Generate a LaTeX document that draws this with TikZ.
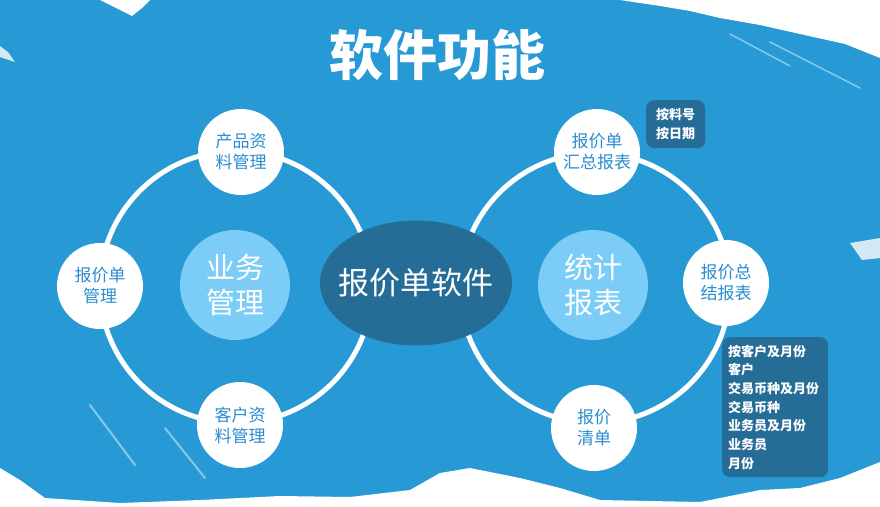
\documentclass[tikz,border=0pt]{standalone}
\usepackage{fontspec}
\setmainfont{Noto Sans CJK SC}
\usetikzlibrary{shapes.geometric, positioning, calc}
\definecolor{fondo}{HTML}{279AD6}
\definecolor{oscuro}{HTML}{256C97}
\definecolor{celeste}{HTML}{7BCDF7}
\definecolor{texto}{HTML}{2A8DCF}
\tikzset{
  anillo/.style={draw=white, line width=5pt},
  satelite/.style={circle, fill=white, minimum size=86pt, inner sep=0pt,
    align=center, text=texto, font=\fontsize{17}{21}\selectfont},
  nucleo/.style={circle, fill=celeste, minimum size=110pt, inner sep=0pt,
    align=center, text=white, font=\fontsize{29}{35}\selectfont},
  etiqueta/.style={rectangle, rounded corners=8pt, fill=oscuro, align=left,
    text=white, inner sep=0pt, font=\bfseries\fontsize{13}{18.7}\selectfont},
  brocha/.style={fill=white},
  raya/.style={draw=white, line cap=round, opacity=0.45}
}

\begin{document}
\begin{tikzpicture}[x=1pt, y=-1pt]

  % --- Fondo ---
  \useasboundingbox (0,0) rectangle (880,506);
  \fill[fondo] (0,0) rectangle (880,506);

  % --- Pinceladas ---
  \fill[brocha] (620,0) -- (880,0) -- (880,58) -- (845,44) -- (800,34)
    -- (760,25) -- (720,18) -- (690,11) -- (660,6) -- (640,3) -- cycle;
  \fill[brocha] (100,0) -- (150,0) -- (142,8) -- (132,16) -- (116,8) -- cycle;
  \fill[brocha, opacity=0.8] (0,46) -- (8,52) -- (15,62) -- (0,57) -- cycle;
  \fill[brocha, opacity=0.8] (850,243) -- (880,238) -- (880,258) -- (862,260) -- cycle;
  \fill[brocha] (0,468) -- (20,480) -- (45,498) -- (120,503) -- (200,500)
    -- (280,496) -- (350,497) -- (410,490) -- (440,473) -- (470,468)
    -- (520,478) -- (560,488) -- (600,500) -- (700,502) -- (760,490)
    -- (800,488) -- (840,478) -- (880,462) -- (880,506) -- (0,506) -- cycle;
  \draw[raya, line width=1.5pt] (730,34) -- (790,66);
  \draw[raya, line width=1.5pt] (770,42) -- (860,88);
  \draw[raya, line width=2pt] (90,405) -- (135,465);
  \draw[raya, line width=2pt] (165,428) -- (205,478);

  % --- Anillos ---
  \draw[anillo] (236,287) circle (136);
  \draw[anillo] (595,288) circle (135);

  % --- Centro ---
  \node[ellipse, fill=oscuro, minimum width=192pt, minimum height=125pt,
    inner sep=0pt, text=white, font=\fontsize{31}{31}\selectfont] (centro)
    at (416,283) {\makebox[0pt]{报价单软件}};

  % --- Gestión ---
  \node[nucleo] (gestion) at (235,285) {业务\\管理};
  \node[satelite] (producto) at (241,152) {产品资\\料管理};
  \node[satelite] (pedido) at (100,286) {报价单\\管理};
  \node[satelite] (cliente) at (240,425) {客户资\\料管理};

  % --- Informes ---
  \node[nucleo] (informes) at (593,285) {统计\\报表};
  \node[satelite] (resumen) at (597,152) {报价单\\汇总报表};
  \node[satelite] (total) at (726,283) {报价总\\结报表};
  \node[satelite] (lista) at (594,428) {报价\\清单};

  % --- Etiquetas ---
  \node[etiqueta, anchor=north west, minimum width=59pt, minimum height=48pt,
    align=center] (porfecha) at (646,100) {按料号\\按日期};
  \node[etiqueta, anchor=north west, text width=94pt, minimum height=140pt,
    inner xsep=6pt] (porcliente) at (722,337)
    {按客户及月份\\客户\\交易币种及月份\\交易币种\\业务员及月份\\业务员\\月份};

  % --- Título ---
  \node[text=white, font=\bfseries\fontsize{54}{54}\selectfont] (titulo)
    at (437,55) {软件功能};

\end{tikzpicture}
\end{document}
